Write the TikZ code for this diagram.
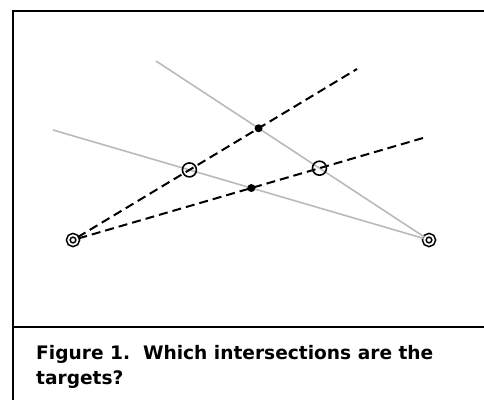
\documentclass[tikz,border=0pt]{standalone}
\usepackage{fontspec}
\setmainfont{DejaVu Sans}
\usetikzlibrary{intersections}

\begin{document}
\begin{tikzpicture}[x=1pt,y=-1pt,
    frame/.style={draw=black, line width=2pt},
    ray/.style={draw=black!27, line width=1.6pt},
    sight/.style={draw=black, line width=2pt, dash pattern=on 9pt off 5pt},
    target/.style={
      circle,
      draw=black,
      double=white,
      double distance=1.8pt,
      line width=1.6pt,
      inner sep=0pt,
      minimum size=9.5pt
    },
    ghost/.style={
      circle,
      draw=black,
      line width=1.6pt,
      inner sep=0pt,
      minimum size=14pt
    },
    hit/.style={
      circle,
      fill=black,
      inner sep=0pt,
      minimum size=8pt
    },
    caption/.style={
      align=left,
      inner sep=0pt,
      font=\fontsize{18.6}{25}\selectfont\bfseries
    }
  ]
  \useasboundingbox (0,0) rectangle (484,399);
  \clip (0,0) rectangle (484,399);

  % frame and caption panel
  \draw[frame] (13,11) rectangle (492,410);
  \draw[frame] (13,327) -- (492,327);

  % the two observers
  \node[target] (srcL) at (73,240) {};
  \node[target] (srcR) at (429,240) {};

  % free ends of the bearings
  \coordinate (rayAend) at (156,61);
  \coordinate (rayBend) at (53,130);
  \coordinate (sightAend) at (357,69);
  \coordinate (sightBend) at (423,138);

  % bearings
  \draw[ray, name path=rayA] (rayAend) -- (srcR);
  \draw[ray, name path=rayB] (rayBend) -- (srcR);
  \draw[sight, name path=sightA] (srcL) -- (sightAend);
  \draw[sight, name path=sightB] (srcL) -- (sightBend);

  % crossings
  \path[name intersections={of=sightA and rayA, by=xAA}];
  \path[name intersections={of=sightB and rayB, by=xBB}];
  \path[name intersections={of=sightA and rayB, by=xAB}];
  \path[name intersections={of=sightB and rayA, by=xBA}];
  \node[hit] (dotA) at (xAA) {};
  \node[hit] (dotB) at (xBB) {};
  \node[ghost] (ringA) at (xAB) {};
  \node[ghost] (ringB) at (xBA) {};

  \node[caption, anchor=base west] (cap) at (36,384)
    {Figure 1.\ \ Which intersections are the\\targets?};
\end{tikzpicture}
\end{document}
